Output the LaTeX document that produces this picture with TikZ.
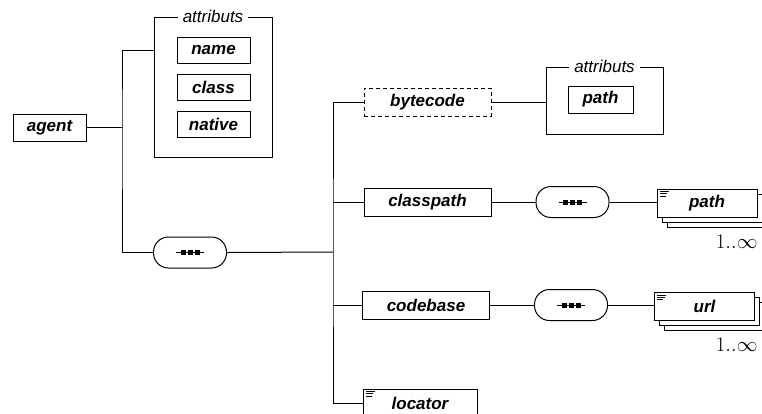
\documentclass[tikz,border=0pt]{standalone}
\usepackage{fontspec}
\newfontfamily\diafont{Liberation Sans}
\usetikzlibrary{positioning,shadows}

\begin{document}
\begin{tikzpicture}[
    x=1pt, y=-1pt, line width=1pt,
    every elem/.style={rectangle, draw, fill=white, minimum height=28pt, inner sep=0pt,
      font=\diafont\fontsize{17}{20}\selectfont\bfseries\itshape},
    elem/.style={every elem, minimum width=127pt},
    attr elem/.style={every elem, minimum width=73pt, minimum height=26pt},
    opt elem/.style={elem, dash pattern=on 4pt off 3pt},
    list elem/.style={every elem, minimum width=100pt,
      copy shadow={shadow xshift=10pt, shadow yshift=-10pt},
      copy shadow={shadow xshift=5pt, shadow yshift=-5pt}},
    group box/.style={rectangle, draw, inner sep=0pt},
    group label/.style={fill=white, inner xsep=5pt, inner ysep=1pt,
      font=\diafont\fontsize{17}{20}\selectfont\itshape},
    seq/.style={rectangle, rounded corners=15pt, draw, fill=white, minimum width=73pt, minimum height=31pt},
    card/.style={font=\fontsize{21.5}{24}\selectfont, anchor=east, inner sep=0pt}
]
    \useasboundingbox (0,0) rectangle (762,413);
    \clip (0,0) rectangle (762,413);

    % agent and its attributes
    \node[attr elem, minimum height=27pt] (agent) at (49.5,127.5) {agent};
    \node[group box, minimum width=118pt, minimum height=140pt] (grp1) at (213,87) {};
    \node[group label] (grp1lab) at (grp1.north) {attributs};
    \node[attr elem] (name) at (213.5,50) {name};
    \node[attr elem, below=10pt of name] (class) {class};
    \node[attr elem, below=10pt of class] (native) {native};
    \node[seq] (seq1) at (190,252.5) {};

    % children
    \node[opt elem] (bytecode) at (427.5,102) {bytecode};
    \node[group box, minimum width=117pt, minimum height=67pt] (grp2) at (604.5,100.5) {};
    \node[group label] (grp2lab) at (grp2.north) {attributs};
    \node[attr elem, minimum width=65pt, minimum height=27pt] (bcpath) at (600.5,99.5) {path};

    \node[elem] (classpath) at (427.5,202) {classpath};
    \node[seq] (seq2) at (572.5,202) {};
    \node[list elem] (pathlist) at (707,203) {path};
    \node[card] (pathcard) at (758,242) {$1..\infty$};

    \node[elem] (codebase) at (426,305) {codebase};
    \node[seq] (seq3) at (571,305) {};
    \node[list elem] (urllist) at (704.5,306.5) {url};
    \node[card] (urlcard) at (758,345) {$1..\infty$};

    \node[every elem, minimum width=114pt] (locator) at (420,403) {locator};

    % sequence marks
    \foreach \s in {seq1,seq2,seq3} {
      \draw ([xshift=-14pt]\s.center) -- ([xshift=14pt]\s.center);
      \foreach \dx in {-7,0,7}
        \fill ([xshift=\dx pt]\s.center) +(-2.5,-2.5) rectangle +(2.5,2.5);
    }
    % content marks
    \foreach \n in {pathlist,urllist,locator}
      \foreach \k/\l in {0/9,2.2/7.5,4.4/6}
        \draw[line width=0.7pt] ([shift={(3,3+\k)}]\n.north west) -- ++(\l,0);

    % connectors
    \coordinate (j1) at (122,127.5);
    \coordinate (j2) at (333,252);
    \draw (agent) -- (j1);
    \draw (grp1.west |- name) -| (j1) |- (seq1.west);
    \draw (seq1.east) -- (j2);
    \draw (bytecode.west) -| (j2) |- (locator.west);
    \draw (classpath.west) -- (classpath.west -| j2);
    \draw (codebase.west) -- (codebase.west -| j2);
    \draw (bytecode.east) -- (bytecode.east -| grp2.west);
    \draw (classpath) -- (seq2);
    \draw (seq2.east) -- (seq2.east -| pathlist.west);
    \draw (codebase) -- (seq3);
    \draw (seq3.east) -- (seq3.east -| urllist.west);
\end{tikzpicture}
\end{document}
